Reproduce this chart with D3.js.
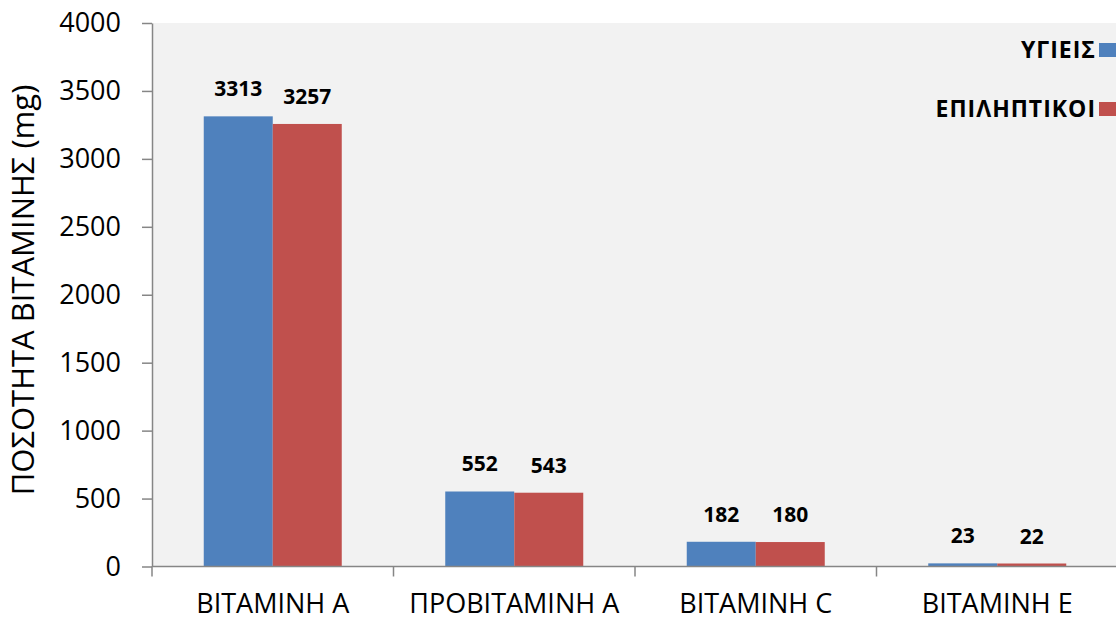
<!DOCTYPE html>
<html>
<head>
<meta charset="utf-8">
<script src="https://cdn.jsdelivr.net/npm/d3@7"></script>
<style>
  html, body { margin: 0; padding: 0; background: #ffffff; }
  svg { display: block; }
</style>
</head>
<body>
<svg id="chart" width="1116" height="621"></svg>
<script>
// Vitamin intake: healthy vs epileptic group
const categories = ["ΒΙΤΑΜΙΝΗ Α", "ΠΡΟΒΙΤΑΜΙΝΗ Α", "ΒΙΤΑΜΙΝΗ C", "ΒΙΤΑΜΙΝΗ Ε"];
const seriesNames = ["ΥΓΙΕΙΣ", "ΕΠΙΛΗΠΤΙΚΟΙ"];
const healthyValues = [3313, 552, 182, 23];
const epilepticValues = [3257, 543, 180, 22];
const yTicks = [0, 500, 1000, 1500, 2000, 2500, 3000, 3500, 4000];
const yTitle = "ΠΟΣΟΤΗΤΑ ΒΙΤΑΜΙΝΗΣ (mg)";
const colors = ["#4f81bd", "#c0504d"];

const seriesValues = [healthyValues, epilepticValues];
const rows = categories.map((c, i) => ({
  category: c,
  values: seriesNames.map((s, j) => ({ series: s, value: seriesValues[j][i], color: colors[j] }))
}));

const svg = d3.select("#chart");
const plot = { left: 152, right: 1118, top: 23, bottom: 566.5 };
const font = "'Open Sans', 'DejaVu Sans', sans-serif";

const x0 = d3.scaleBand().domain(categories).range([plot.left, plot.right]).padding(0);
const x1 = d3.scaleBand().domain(seriesNames).range([0, x0.bandwidth()])
  .paddingInner(0).paddingOuter(0.75);
const y = d3.scaleLinear().domain([0, 4000]).range([plot.bottom, plot.top]);

// plot area background
svg.append("rect")
  .attr("x", plot.left).attr("y", plot.top)
  .attr("width", plot.right - plot.left).attr("height", plot.bottom - plot.top)
  .attr("fill", "#f2f2f2");

// bars
const groups = svg.append("g").selectAll("g").data(rows).join("g")
  .attr("transform", d => `translate(${x0(d.category)},0)`);

groups.selectAll("rect").data(d => d.values).join("rect")
  .attr("x", d => x1(d.series))
  .attr("y", d => y(d.value))
  .attr("width", x1.bandwidth())
  .attr("height", d => y(0) - y(d.value))
  .attr("fill", d => d.color);

// value labels
groups.selectAll("text").data(d => d.values).join("text")
  .attr("x", d => x1(d.series) + x1.bandwidth() / 2)
  .attr("y", d => y(d.value) - 20)
  .attr("text-anchor", "middle")
  .attr("font-family", font)
  .attr("font-weight", "bold")
  .attr("font-size", 21)
  .attr("fill", "#000")
  .text(d => d.value);

// y axis
const yAxis = svg.append("g")
  .attr("transform", `translate(${plot.left},0)`)
  .call(d3.axisLeft(y).tickValues(yTicks).tickFormat(d3.format("d"))
    .tickSize(10).tickPadding(21).tickSizeOuter(0));
yAxis.select(".domain").attr("stroke", "#868686").attr("stroke-width", 1.5);
yAxis.selectAll(".tick line").attr("stroke", "#868686").attr("stroke-width", 1.5);
yAxis.selectAll(".tick text")
  .attr("font-family", font).attr("font-size", 27).attr("fill", "#000");

// x axis with ticks at category boundaries
const xAxis = svg.append("g").attr("transform", `translate(0,${plot.bottom})`);
xAxis.append("line")
  .attr("x1", plot.left).attr("x2", plot.right)
  .attr("stroke", "#868686").attr("stroke-width", 1.5);
xAxis.selectAll("line.tick").data(categories).join("line")
  .attr("class", "tick")
  .attr("x1", d => x0(d)).attr("x2", d => x0(d))
  .attr("y1", 0).attr("y2", 10)
  .attr("stroke", "#868686").attr("stroke-width", 1.5);
xAxis.selectAll("text").data(categories).join("text")
  .attr("x", d => x0(d) + x0.bandwidth() / 2)
  .attr("y", 46)
  .attr("text-anchor", "middle")
  .attr("font-family", font).attr("font-size", 27).attr("fill", "#000")
  .text(d => d);

// y axis title
svg.append("text")
  .attr("transform", `translate(34,290) rotate(-90)`)
  .attr("text-anchor", "middle")
  .attr("font-family", font).attr("font-size", 31).attr("fill", "#000")
  .text(yTitle);

// legend
const legend = svg.append("g").selectAll("g").data(seriesNames).join("g")
  .attr("transform", (d, i) => `translate(0,${58 + i * 59})`);
legend.append("rect")
  .attr("x", 1099).attr("y", -15).attr("width", 17).attr("height", 14)
  .attr("fill", (d, i) => colors[i]);
legend.append("text")
  .attr("x", 1096).attr("y", 0)
  .attr("text-anchor", "end")
  .attr("font-family", font).attr("font-weight", "bold").attr("font-size", 23)
  .attr("letter-spacing", 1)
  .attr("fill", "#000")
  .text(d => d);
</script>
</body>
</html>
